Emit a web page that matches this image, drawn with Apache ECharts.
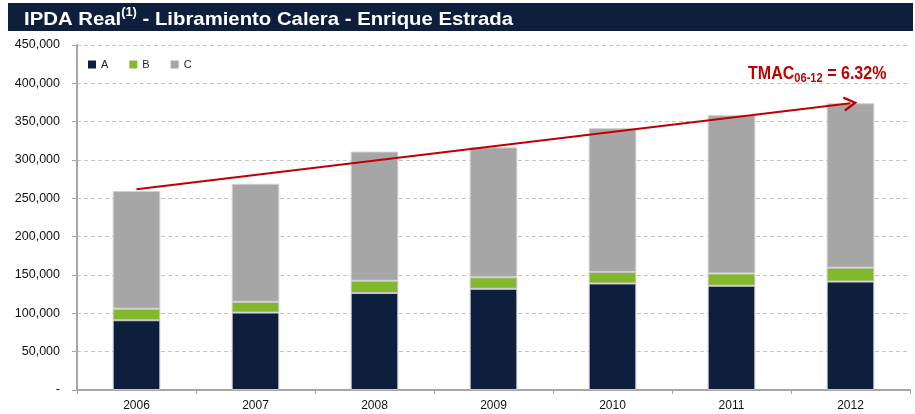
<!DOCTYPE html>
<html>
<head>
<meta charset="utf-8">
<script src="https://cdn.jsdelivr.net/npm/echarts@6/dist/echarts.min.js"></script>
<style>
html,body{margin:0;padding:0;background:#fff;}
#chart{width:915px;height:414px;}
</style>
</head>
<body>
<div id="chart"></div>
<script>
const categories = ['2006','2007','2008','2009','2010','2011','2012'];
const seriesA = [91000, 101000, 126500, 132000, 139000, 136000, 141500];
const seriesB = [15000, 14000, 16000, 15000, 15000, 16000, 18000];
const seriesC = [153500, 154000, 168500, 169500, 187500, 206500, 214500];
const trendStart = ['2006', 262000];
const trendEnd = ['2012', 374000];

const chart = echarts.init(document.getElementById('chart'));
const FONT = '"Liberation Sans", Arial, sans-serif';
const chevron = 'path://M0,12 L7,0 L14,12 L12,13 L7,4.2 L2,13 Z';

chart.setOption({
  animation: false,
  textStyle: { fontFamily: FONT },
  graphic: [
    { type: 'rect', shape: { x: 8, y: 3, width: 905, height: 28 }, style: { fill: '#0e1f3d' } },
    { type: 'text', x: 24, y: 6.5, scaleX: 1.07,
      style: {
        text: '{m|IPDA Real}{s|(1)}{m| - Libramiento Calera - Enrique Estrada}',
        align: 'left', verticalAlign: 'top',
        rich: {
          m: { fontFamily: FONT, fontWeight: 'bold', fontSize: 19, fill: '#fff', lineHeight: 26, verticalAlign: 'middle' },
          s: { fontFamily: FONT, fontWeight: 'bold', fontSize: 12, fill: '#fff', lineHeight: 13, verticalAlign: 'top' }
        }
      }
    },
    { type: 'text', x: 748, y: 63, scaleX: 0.89,
      style: {
        text: '{m|TMAC}{s|06-12}{m| = 6.32%}',
        align: 'left', verticalAlign: 'top',
        rich: {
          m: { fontFamily: FONT, fontWeight: 'bold', fontSize: 18, fill: '#c00000', lineHeight: 22, verticalAlign: 'middle' },
          s: { fontFamily: FONT, fontWeight: 'bold', fontSize: 12.5, fill: '#c00000', lineHeight: 14, verticalAlign: 'bottom' }
        }
      }
    }
  ],
  legend: {
    left: 83, top: 54,
    icon: 'rect', itemWidth: 8, itemHeight: 8, itemGap: 21,
    itemStyle: { borderWidth: 0 },
    textStyle: { fontFamily: FONT, fontSize: 11, color: '#222' },
    data: ['A', 'B', 'C']
  },
  grid: { left: 77, right: 5, top: 45, bottom: 24, containLabel: false },
  xAxis: {
    type: 'category',
    data: categories,
    axisLine: { lineStyle: { color: '#a6a6a6', width: 2 } },
    axisTick: { show: true, length: 4, lineStyle: { color: '#a6a6a6' } },
    axisLabel: { fontFamily: FONT, fontSize: 12, color: '#111', margin: 10 }
  },
  yAxis: {
    type: 'value',
    min: 0, max: 450000, interval: 50000,
    axisLine: { show: true, lineStyle: { color: '#a6a6a6', width: 2 } },
    axisTick: { show: true, length: 5, lineStyle: { color: '#a6a6a6' } },
    splitLine: { lineStyle: { color: '#c4c4c4', type: [4, 3], width: 1 } },
    axisLabel: {
      fontFamily: FONT, fontSize: 12.5, color: '#111', margin: 17,
      formatter: function (v) { return v === 0 ? '-' : v.toLocaleString('en-US'); }
    }
  },
  series: [
    { name: 'A', type: 'bar', stack: 't', data: seriesA, barWidth: '40%',
      itemStyle: { color: '#0e1f3d', borderColor: '#c8c8c8', borderWidth: 1 } },
    { name: 'B', type: 'bar', stack: 't', data: seriesB, barWidth: '40%',
      itemStyle: { color: '#84b82c', borderColor: '#c8c8c8', borderWidth: 1 } },
    { name: 'C', type: 'bar', stack: 't', data: seriesC, barWidth: '40%',
      itemStyle: { color: '#a6a6a6', borderColor: '#d0d0d0', borderWidth: 1 },
      markLine: {
        silent: true,
        symbol: ['none', chevron],
        symbolSize: [15, 14],
        label: { show: false },
        lineStyle: { color: '#c00000', width: 2, type: 'solid' },
        data: [[ { coord: trendStart }, { coord: trendEnd } ]]
      }
    }
  ]
});
</script>
</body>
</html>
